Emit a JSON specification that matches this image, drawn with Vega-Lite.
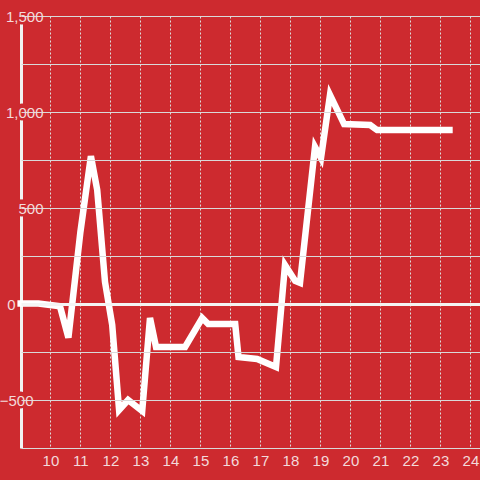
{
  "$schema": "https://vega.github.io/schema/vega-lite/v6.json",
  "width": 459,
  "height": 432,
  "autosize": {"type": "none"},
  "padding": {"left": 21, "top": 16, "right": 0, "bottom": 32},
  "background": "#cd2a2f",
  "config": {
    "view": {"stroke": null},
    "font": "Liberation Sans",
    "axisX": {
      "title": null,
      "domain": false,
      "ticks": false,
      "grid": true,
      "gridColor": {"condition": {"test": "datum.value < 9.5", "value": "#f2f2f2"}, "value": "#dcdcdc"},
      "gridDash": {"condition": {"test": "datum.value < 9.5", "value": []}, "value": [2, 2]},
      "gridWidth": {"condition": {"test": "datum.value < 9.5", "value": 3}, "value": 1},
      "labelColor": "#f3dadb",
      "labelFontSize": 15,
      "labelPadding": 5,
      "labelFont": "Liberation Sans"
    },
    "axisY": {
      "title": null,
      "domain": false,
      "ticks": false,
      "grid": true,
      "gridColor": {"condition": {"test": "datum.value === 0", "value": "#f4f4f4"}, "value": "#d9d9d9"},
      "gridWidth": {"condition": {"test": "datum.value === 0", "value": 3}, "value": 1},
      "labelColor": "#f3dadb",
      "labelFontSize": 15,
      "labelAlign": "right",
      "labelPadding": {"condition": [{"test": "datum.value === 0", "value": 6}, {"test": "datum.value === -500", "value": -12}], "value": -22},
      "labelFont": "Liberation Sans"
    }
  },
  "layer": [
    {
      "data": {"values": [{"v": 500}, {"v": 1000}, {"v": 1500}]},
      "mark": {"type": "text", "align": "right", "baseline": "middle", "dx": 22, "fontSize": 15, "font": "Liberation Sans", "fill": "#cd2a2f", "stroke": "#cd2a2f", "strokeWidth": 7, "strokeJoin": "round"},
      "encoding": {
        "x": {"datum": 9.02, "type": "quantitative", "scale": {"domain": [9.02, 24.32], "nice": false, "zero": false},
          "axis": {"values": [9.02, 10, 11, 12, 13, 14, 15, 16, 17, 18, 19, 20, 21, 22, 23, 24], "labelExpr": "datum.value < 9.5 ? '' : datum.label"}},
        "y": {"field": "v", "type": "quantitative", "scale": {"domain": [-750, 1500], "nice": false, "zero": false},
          "axis": {"zindex": 1, "values": [-750, -500, -250, 0, 250, 500, 750, 1000, 1250, 1500], "labelExpr": "datum.value % 500 === 0 ? format(datum.value, ',') : ''"}},
        "text": {"field": "v", "type": "quantitative", "format": ","}
      }
    },
    {
      "data": {"values": [{"v": -500}]},
      "mark": {"type": "text", "align": "right", "baseline": "middle", "dx": 12, "fontSize": 15, "font": "Liberation Sans", "fill": "#cd2a2f", "stroke": "#cd2a2f", "strokeWidth": 7, "strokeJoin": "round"},
      "encoding": {
        "x": {"datum": 9.02, "type": "quantitative", "scale": {"domain": [9.02, 24.32], "nice": false, "zero": false},
          "axis": {"values": [9.02, 10, 11, 12, 13, 14, 15, 16, 17, 18, 19, 20, 21, 22, 23, 24], "labelExpr": "datum.value < 9.5 ? '' : datum.label"}},
        "y": {"field": "v", "type": "quantitative", "scale": {"domain": [-750, 1500], "nice": false, "zero": false},
          "axis": {"zindex": 1, "values": [-750, -500, -250, 0, 250, 500, 750, 1000, 1250, 1500], "labelExpr": "datum.value % 500 === 0 ? format(datum.value, ',') : ''"}},
        "text": {"field": "v", "type": "quantitative", "format": ","}
      }
    },
    {
      "data": {"values": [{"v": 0}]},
      "mark": {"type": "text", "align": "right", "baseline": "middle", "dx": -6, "fontSize": 15, "font": "Liberation Sans", "fill": "#cd2a2f", "stroke": "#cd2a2f", "strokeWidth": 7, "strokeJoin": "round"},
      "encoding": {
        "x": {"datum": 9.02, "type": "quantitative", "scale": {"domain": [9.02, 24.32], "nice": false, "zero": false},
          "axis": {"values": [9.02, 10, 11, 12, 13, 14, 15, 16, 17, 18, 19, 20, 21, 22, 23, 24], "labelExpr": "datum.value < 9.5 ? '' : datum.label"}},
        "y": {"field": "v", "type": "quantitative", "scale": {"domain": [-750, 1500], "nice": false, "zero": false},
          "axis": {"zindex": 1, "values": [-750, -500, -250, 0, 250, 500, 750, 1000, 1250, 1500], "labelExpr": "datum.value % 500 === 0 ? format(datum.value, ',') : ''"}},
        "text": {"field": "v", "type": "quantitative", "format": ","}
      }
    },
    {
      "data": {
        "values": [
          {"x": 8.9, "y": 2},
          {"x": 9.6, "y": 2},
          {"x": 10.32, "y": -12},
          {"x": 10.6, "y": -175},
          {"x": 11.0, "y": 375},
          {"x": 11.35, "y": 770},
          {"x": 11.56, "y": 594},
          {"x": 11.82, "y": 115},
          {"x": 12.06, "y": -109},
          {"x": 12.29, "y": -552},
          {"x": 12.59, "y": -500},
          {"x": 13.06, "y": -557},
          {"x": 13.32, "y": -73},
          {"x": 13.52, "y": -224},
          {"x": 14.49, "y": -224},
          {"x": 15.06, "y": -73},
          {"x": 15.26, "y": -104},
          {"x": 16.16, "y": -104},
          {"x": 16.27, "y": -276},
          {"x": 16.89, "y": -286},
          {"x": 17.52, "y": -328},
          {"x": 17.82, "y": 203},
          {"x": 18.16, "y": 120},
          {"x": 18.32, "y": 110},
          {"x": 18.82, "y": 818},
          {"x": 19.02, "y": 760},
          {"x": 19.32, "y": 1089},
          {"x": 19.79, "y": 937},
          {"x": 20.66, "y": 932},
          {"x": 20.89, "y": 906},
          {"x": 23.41, "y": 906}
        ]
      },
      "mark": {"type": "line", "color": "#ffffff", "strokeWidth": 6.5, "strokeCap": "butt", "strokeJoin": "miter"},
      "encoding": {
        "x": {"field": "x", "type": "quantitative", "scale": {"domain": [9.02, 24.32], "nice": false, "zero": false},
          "axis": {"values": [9.02, 10, 11, 12, 13, 14, 15, 16, 17, 18, 19, 20, 21, 22, 23, 24], "labelExpr": "datum.value < 9.5 ? '' : datum.label"}},
        "y": {"field": "y", "type": "quantitative", "scale": {"domain": [-750, 1500], "nice": false, "zero": false},
          "axis": {"zindex": 1, "values": [-750, -500, -250, 0, 250, 500, 750, 1000, 1250, 1500], "labelExpr": "datum.value % 500 === 0 ? format(datum.value, ',') : ''"}}
      }
    }
  ]
}
